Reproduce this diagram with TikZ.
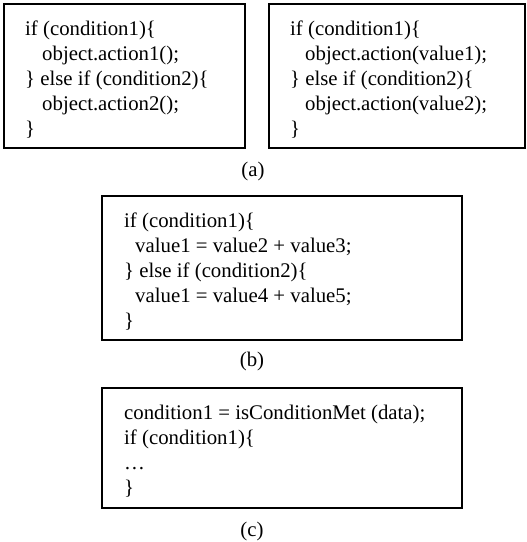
\documentclass[tikz,border=0pt]{standalone}
\usepackage{fontspec}
\setmainfont{Liberation Serif}
\begin{document}
\begin{tikzpicture}[x=1pt,y=-1pt,
  codebox/.style={draw=black,line width=1.6pt,inner sep=0pt,outer sep=0pt},
  codeline/.style={anchor=base west,inner sep=0pt,font=\fontsize{20.8}{25}\selectfont},
  caption/.style={anchor=base,inner sep=0pt,font=\fontsize{20.8}{25}\selectfont}]
\path[use as bounding box] (0,0) rectangle (527,542);
% boxes
\node[codebox,minimum width=241pt,minimum height=144pt] (boxA1) at (124.5,76) {};
\node[codebox,minimum width=256pt,minimum height=144pt] (boxA2) at (397,76) {};
\node[codebox,minimum width=360pt,minimum height=144pt] (boxB) at (282,268) {};
\node[codebox,minimum width=360pt,minimum height=120pt] (boxC) at (282,448) {};
% (a) left
\node[codeline] (a1l1) at (25,35.5) {if (condition1)\{};
\node[codeline] (a1l2) at (42,60.5) {object.action1();};
\node[codeline] (a1l3) at (25,85.5) {\} else if (condition2)\{};
\node[codeline] (a1l4) at (42,110.5) {object.action2();};
\node[codeline] (a1l5) at (25,135.5) {\}};
% (a) right
\node[codeline] (a2l1) at (290,35.5) {if (condition1)\{};
\node[codeline] (a2l2) at (305,60.5) {object.action(value1);};
\node[codeline] (a2l3) at (290,85.5) {\} else if (condition2)\{};
\node[codeline] (a2l4) at (305,110.5) {object.action(value2);};
\node[codeline] (a2l5) at (290,135.5) {\}};
\node[caption] (capA) at (253,176) {(a)};
% (b)
\node[codeline] (bl1) at (124,227) {if (condition1)\{};
\node[codeline] (bl2) at (135,252) {value1 = value2 + value3;};
\node[codeline] (bl3) at (124,277) {\} else if (condition2)\{};
\node[codeline] (bl4) at (135,302) {value1 = value4 + value5;};
\node[codeline] (bl5) at (124,327) {\}};
\node[caption] (capB) at (252,366) {(b)};
% (c)
\node[codeline] (cl1) at (124,419) {condition1 = isConditionMet (data);};
\node[codeline] (cl2) at (124,444) {if (condition1)\{};
\node[codeline] (cl3) at (124,469) {…};
\node[codeline] (cl4) at (124,494) {\}};
\node[caption] (capC) at (252,536) {(c)};
\end{tikzpicture}
\end{document}
